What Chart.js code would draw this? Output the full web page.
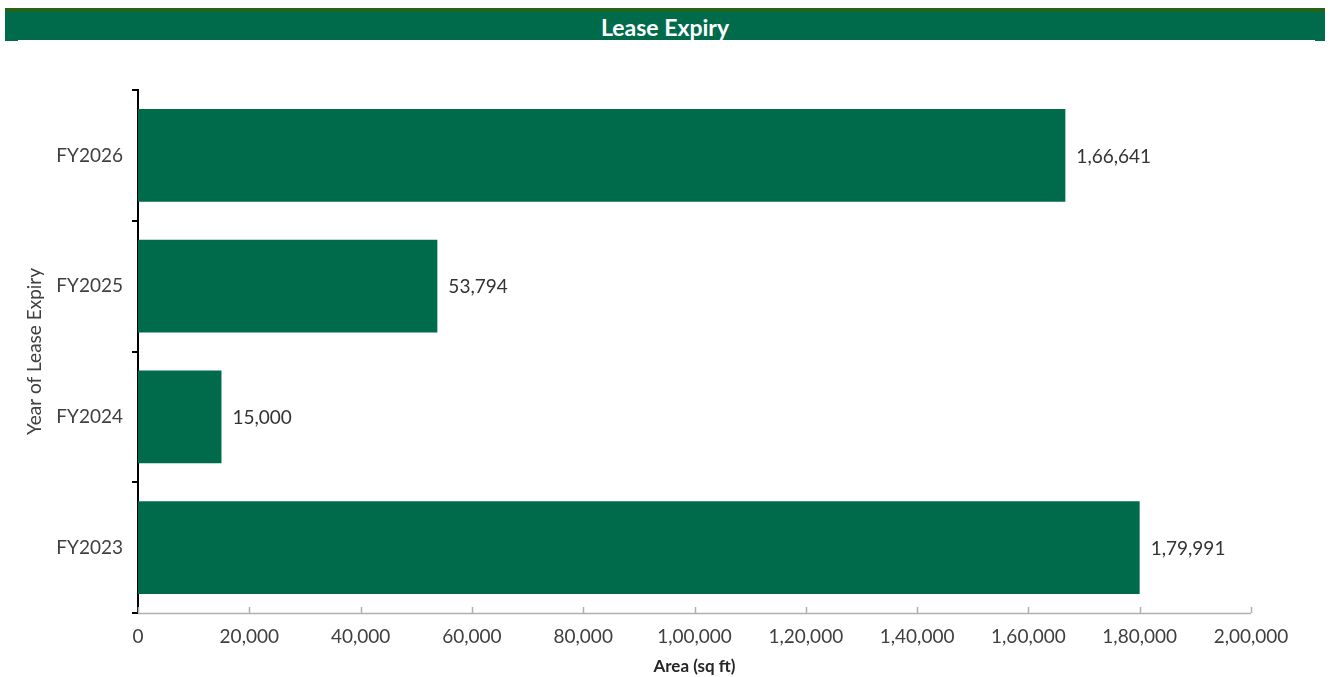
<!DOCTYPE html>
<html>
<head>
<meta charset="utf-8">
<title>Lease Expiry</title>
<script src="https://cdn.jsdelivr.net/npm/chart.js@4"></script>
<style>
  body { margin: 0; background: #fff; width: 1330px; height: 677px; overflow: hidden; position: relative; font-family: "Lato", "DejaVu Sans", sans-serif; }
  .strip { position: absolute; left: 5px; top: 8px; width: 1320px; height: 4px; background: #236418; }
  .band { position: absolute; left: 5px; top: 12px; width: 1320px; height: 29px; background: #006b4a; color: #fff; text-align: center; font-weight: bold; font-size: 23px; line-height: 31px; }
  .band .edge { position: absolute; left: 13px; right: 10px; bottom: 0; height: 1px; background: #fff; }
  #wrap { position: absolute; left: 0; top: 0; width: 1330px; height: 677px; }
</style>
</head>
<body>
<div class="strip"></div>
<div class="band">Lease Expiry<div class="edge"></div></div>
<div id="wrap"><canvas id="myChart"></canvas></div>
<script>
const categories = ["FY2026", "FY2025", "FY2024", "FY2023"];
const areaValues = [166641, 53794, 15000, 179991];
const xTicks = [0, 20000, 40000, 60000, 80000, 100000, 120000, 140000, 160000, 180000, 200000];

// indian grouping: 1,66,641
function fmtIN(n) {
    const s = String(Math.round(n));
    if (s.length <= 3) return s;
    let last3 = s.slice(-3);
    let rest = s.slice(0, -3);
    rest = rest.replace(/\B(?=(\d{2})+(?!\d))/g, ",");
    return rest + "," + last3;
}

const fontFamily = "'Lato', 'DejaVu Sans', sans-serif";

const valueLabels = {
    id: "valueLabels",
    afterDatasetsDraw(chart) {
        const ctx = chart.ctx;
        const meta = chart.getDatasetMeta(0);
        ctx.save();
        ctx.font = "19px " + fontFamily;
        ctx.fillStyle = "#333";
        ctx.textAlign = "left";
        ctx.textBaseline = "middle";
        meta.data.forEach((bar, i) => {
            ctx.fillText(fmtIN(areaValues[i]), bar.x + 11, bar.y + 1);
        });
        ctx.restore();
    }
};

// x ticks point up into the plot
const innerTicks = {
    id: "innerTicks",
    afterDraw(chart) {
        const ctx = chart.ctx;
        const x = chart.scales.x;
        const bottom = chart.chartArea.bottom;
        ctx.save();
        ctx.strokeStyle = "#b0b0b0";
        ctx.lineWidth = 1.5;
        ctx.beginPath();
        ctx.moveTo(chart.chartArea.left, bottom + 0.5);
        ctx.lineTo(x.getPixelForValue(200000), bottom + 0.5);
        xTicks.forEach(v => {
            const px = Math.round(x.getPixelForValue(v)) + 0.5;
            ctx.moveTo(px, bottom);
            ctx.lineTo(px, bottom - 6);
        });
        ctx.stroke();
        ctx.restore();
    }
};

new Chart(document.getElementById("myChart").getContext("2d"), {
    type: "bar",
    data: {
        labels: categories,
        datasets: [
            {
                label: "Area (sq ft)",
                data: areaValues,
                backgroundColor: "#006b4a",
                barPercentage: 1,
                categoryPercentage: 0.71,
            },
        ],
    },
    options: {
        indexAxis: "y",
        responsive: true,
        maintainAspectRatio: false,
        animation: false,
        layout: { padding: { top: 90, right: 79, left: 0, bottom: 0 } },
        plugins: {
            legend: { display: false },
            tooltip: { enabled: false },
        },
        scales: {
            x: {
                min: 0,
                max: 200000,
                afterBuildTicks(scale) {
                    scale.ticks = xTicks.map(v => ({ value: v }));
                },
                afterFit(scale) { scale.height = 64; },
                grid: { display: false, drawTicks: false },
                border: { display: false },
                ticks: {
                    padding: 12,
                    color: "#404040",
                    font: { family: fontFamily, size: 19 },
                    maxRotation: 0,
                    callback: (v) => fmtIN(v),
                },
                title: {
                    display: true,
                    text: "Area (sq ft)",
                    color: "#262626",
                    font: { family: fontFamily, size: 17, weight: "bold" },
                    padding: { top: 1, bottom: 0 },
                },
            },
            y: {
                afterFit(scale) { scale.width = 138; },
                grid: {
                    offset: true,
                    drawOnChartArea: false,
                    color: "#000",
                    lineWidth: 2,
                    tickLength: 6,
                },
                border: { display: true, color: "#000", width: 2 },
                ticks: {
                    padding: 9,
                    color: "#404040",
                    font: { family: fontFamily, size: 19 },
                },
                title: {
                    display: true,
                    text: "Year of Lease Expiry",
                    color: "#404040",
                    font: { family: fontFamily, size: 19 },
                    padding: { top: 23, bottom: 0 },
                },
            },
        },
    },
    plugins: [valueLabels, innerTicks],
});
</script>
</body>
</html>
